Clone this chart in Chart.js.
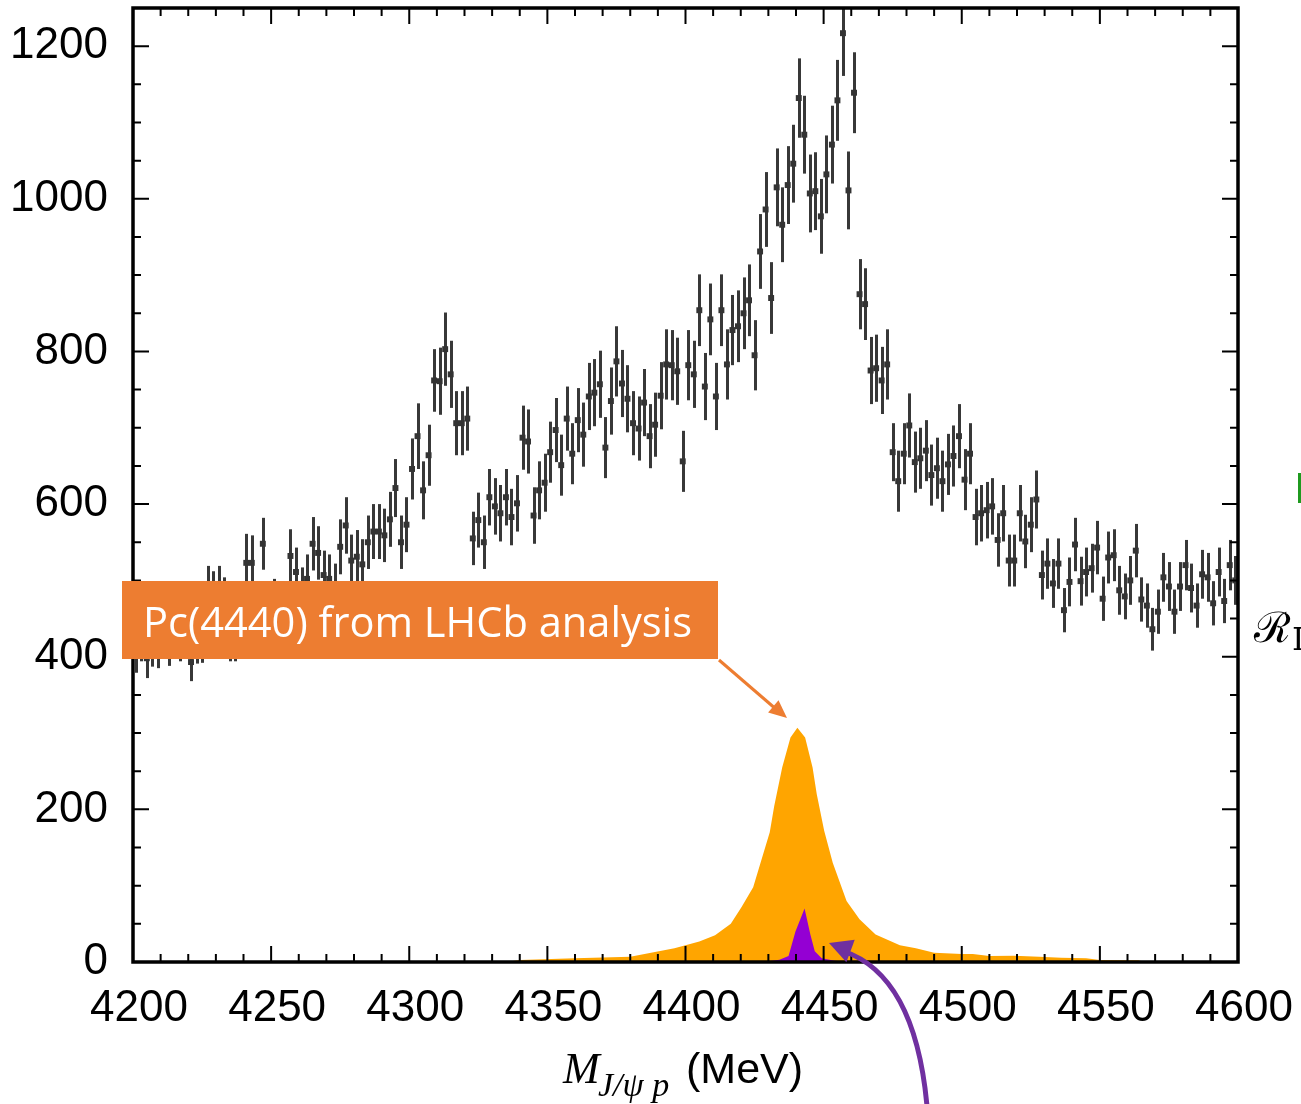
<!DOCTYPE html>
<html>
<head>
<meta charset="utf-8">
<script src="https://cdn.jsdelivr.net/npm/chart.js@4.4.0/dist/chart.umd.min.js"></script>
<style>
html,body{margin:0;padding:0;background:#ffffff;}
#wrap{position:relative;width:1301px;height:1104px;overflow:hidden;}
canvas{display:block;}
</style>
</head>
<body>
<div id="wrap"><canvas id="c" width="1301" height="1104"></canvas></div>
<script>
// ---- data ----
const massLow = 4200;      // MeV, first bin edge
const binWidth = 2;        // MeV
const counts = [
 405,420,398,413,411,440,414,445,420,450,
 393,417,418,487,480,487,475,420,420,470,
 523,523,455,548,455,473,460,462,532,511,
 485,502,548,536,507,502,490,544,572,526,
 531,521,550,564,564,559,580,621,550,573,
 646,689,618,664,762,761,803,770,706,706,
 712,555,579,550,609,597,588,609,583,601,
 687,682,585,618,628,668,697,651,712,666,
 710,691,741,746,757,674,735,787,758,738,
 706,699,733,689,704,742,783,782,774,656,
 782,770,854,754,842,741,854,783,828,833,
 850,867,795,931,986,870,1015,966,1018,1046,
 1132,1084,1007,1010,977,1032,1071,1129,1217,1011,
 1139,875,862,775,778,762,783,668,630,666,
 703,655,660,670,638,647,630,652,663,689,
 632,666,583,588,592,597,553,588,526,526,
 588,551,573,606,507,522,496,522,461,498,
 547,499,511,516,543,476,530,533,487,479,
 500,539,475,467,436,459,504,492,459,492,
 520,490,467,508,504,470,511,473,520,500
];
const countErrors = [
 26,26,26,26,26,29,26,29,26,29,
 25,26,26,32,32,32,29,26,26,29,
 38,36,29,34,29,29,29,29,35,32,
 32,32,35,35,32,32,32,36,37,34,
 35,33,35,36,36,35,36,38,35,36,
 40,43,38,40,41,44,48,44,42,42,
 42,35,36,35,37,37,37,37,37,37,
 42,42,37,38,38,40,42,40,42,40,
 42,42,44,44,44,40,44,46,44,44,
 42,42,44,42,42,44,46,46,44,40,
 46,44,47,44,47,44,47,46,46,47,
 47,47,46,49,49,47,51,49,51,51,
 52,51,51,51,49,51,51,53,56,51,
 53,46,47,44,44,44,46,38,40,40,
 42,40,40,40,40,40,40,40,40,42,
 40,40,37,37,37,37,35,37,34,34,
 37,35,36,38,32,33,32,33,29,32,
 35,32,32,32,35,29,34,34,32,30,
 32,35,29,29,28,29,32,32,29,32,
 33,32,29,32,32,29,32,29,33,32
];
// Pc(4440) line shape from the LHCb analysis (orange)
const pcMass = [4335,4340,4360,4380,4396,4405,4410.7,4416.4,4420.3,4424.5,4430.5,4432.1,4435,4438,4440.5,4443.3,4446,4447.5,4450.2,4453.3,4458.3,4463,4468.8,4477.6,4483.4,4490,4500,4504,4510,4519,4528,4536,4545,4550,4564,4566];
const pcYield = [0,2.6,4.8,7,18,27,35,50,72,98,170,204,255,294,307,294,255,220,172,130,80,56,36,22,18,12,10.5,10.5,8,8.3,7,5.7,4.8,2.6,2.2,0];
// narrow component (purple)
const narrowMass = [4425,4430,4434,4437.3,4439.8,4443.1,4445.2,4446.8,4449.3,4454,4460];
const narrowYield = [0,1,3,8,40,70,36,14,5,1.5,0];
// axis ticks
const xTickLabels = [4200,4250,4300,4350,4400,4450,4500,4550,4600];
const yTickLabels = [0,200,400,600,800,1000,1200];
const xMinorStep = 10, yMinorStep = 50;

// ---- build datasets ----
const dataPoints = counts.map((v,i)=>({x: massLow + binWidth*(i+0.5), y: v}));
const pcPoints = pcMass.map((m,i)=>({x:m, y:pcYield[i]}));
const narrowPoints = narrowMass.map((m,i)=>({x:m, y:narrowYield[i]}));

const errorBarPlugin = {
  id:'errorBars',
  beforeDatasetsDraw(chart){
    const {ctx, chartArea:a, scales:{x,y}} = chart;
    ctx.save();
    ctx.beginPath(); ctx.rect(a.left, a.top, a.right-a.left, a.bottom-a.top); ctx.clip();
    ctx.strokeStyle = '#383838'; ctx.lineWidth = 3; ctx.lineCap='butt';
    dataPoints.forEach((p,i)=>{
      const px = Math.round(x.getPixelForValue(p.x))+0.5;
      ctx.beginPath();
      ctx.moveTo(px, y.getPixelForValue(p.y - countErrors[i]));
      ctx.lineTo(px, y.getPixelForValue(p.y + countErrors[i]));
      ctx.stroke();
    });
    ctx.restore();
  }
};

const framePlugin = {
  id:'frame',
  afterDatasetsDraw(chart){
    const {ctx, chartArea:a, scales:{x,y}} = chart;
    ctx.save();
    ctx.strokeStyle = '#000'; ctx.lineWidth = 2;
    for (let v = x.min; v <= x.max + 1e-6; v += xMinorStep) {
      const px = x.getPixelForValue(v);
      const len = (v % 50 === 0) ? 16 : 8;
      ctx.beginPath();
      ctx.moveTo(px, a.bottom); ctx.lineTo(px, a.bottom - len);
      ctx.moveTo(px, a.top); ctx.lineTo(px, a.top + len);
      ctx.stroke();
    }
    for (let v = y.min; v <= y.max + 1e-6; v += yMinorStep) {
      const py = y.getPixelForValue(v);
      const len = (v % 200 === 0) ? 16 : 8;
      ctx.beginPath();
      ctx.moveTo(a.left, py); ctx.lineTo(a.left + len, py);
      ctx.moveTo(a.right, py); ctx.lineTo(a.right - len, py);
      ctx.stroke();
    }
    ctx.lineWidth = 3.5;
    ctx.strokeRect(a.left, a.top, a.right - a.left, a.bottom - a.top);
    ctx.restore();
  }
};

function arrowHead(ctx, tipX, tipY, fromX, fromY, len, half, color){
  const ang = Math.atan2(tipY-fromY, tipX-fromX);
  ctx.save();
  ctx.fillStyle = color;
  ctx.beginPath();
  ctx.moveTo(tipX, tipY);
  ctx.lineTo(tipX - len*Math.cos(ang) + half*Math.sin(ang), tipY - len*Math.sin(ang) - half*Math.cos(ang));
  ctx.lineTo(tipX - len*Math.cos(ang) - half*Math.sin(ang), tipY - len*Math.sin(ang) + half*Math.cos(ang));
  ctx.closePath(); ctx.fill();
  ctx.restore();
}

const annotationPlugin = {
  id:'annot',
  afterDraw(chart){
    const ctx = chart.ctx;
    ctx.save();
    // orange label box
    ctx.fillStyle = '#ED7D31';
    ctx.fillRect(122, 581, 596, 78);
    const label = 'Pc(4440) from LHCb analysis';
    ctx.font = '38px "Open Sans"';
    const w = ctx.measureText(label).width;
    const fs = 38 * 549 / w;
    ctx.font = fs.toFixed(2) + 'px "Open Sans"';
    ctx.fillStyle = '#ffffff';
    ctx.textBaseline = 'alphabetic'; ctx.textAlign = 'left';
    ctx.fillText(label, 143, 637);
    // orange arrow
    ctx.strokeStyle = '#ED7D31'; ctx.lineWidth = 3;
    ctx.beginPath(); ctx.moveTo(719, 660); ctx.lineTo(777, 710); ctx.stroke();
    arrowHead(ctx, 787, 718, 719, 660, 18, 8, '#ED7D31');
    // purple curved arrow
    ctx.strokeStyle = '#7030A0'; ctx.lineWidth = 5;
    ctx.beginPath(); ctx.moveTo(927, 1106); ctx.quadraticCurveTo(915, 975, 843, 951); ctx.stroke();
    arrowHead(ctx, 829, 943, 915, 975, 23, 12, '#7030A0');
    // x axis title
    ctx.fillStyle = '#000';
    ctx.font = 'italic 44px "Liberation Serif"';
    ctx.fillText('M', 563, 1083);
    ctx.font = 'italic 34px "Liberation Serif"';
    ctx.fillText('J/\u03C8 p', 598, 1096);
    ctx.font = '43px "Liberation Sans"';
    ctx.fillText('(MeV)', 686, 1083);
    // cropped neighbour-panel elements at the right edge
    ctx.fillStyle = '#1f9a1f';
    ctx.fillRect(1298, 473, 3, 30);
    ctx.fillStyle = '#000';
    ctx.font = '42px "DejaVu Serif"';
    ctx.fillText('\u211B', 1254, 642);
    ctx.font = '32px "DejaVu Serif"';
    ctx.fillText('I', 1292, 650);
    ctx.restore();
  }
};

new Chart(document.getElementById('c'), {
  type: 'scatter',
  data: {
    datasets: [
      { label:'data', data: dataPoints, order: 0, pointStyle:'rect', pointRadius: 4.2,
        backgroundColor:'#333333', borderColor:'#333333', borderWidth:0, showLine:false },
      { label:'narrow', type:'line', data: narrowPoints, order: 1, fill:'origin',
        backgroundColor:'#9400D3', borderColor:'#9400D3', borderWidth:0, pointRadius:0, tension:0 },
      { label:'Pc(4440)', type:'line', data: pcPoints, order: 2, fill:'origin',
        backgroundColor:'#FFA500', borderColor:'#FFA500', borderWidth:0, pointRadius:0, tension:0 }
    ]
  },
  options: {
    responsive:false, animation:false, devicePixelRatio:1,
    layout:{ autoPadding:false, padding:{ left:0, top:8, right:63, bottom:0 } },
    plugins:{ legend:{display:false}, tooltip:{enabled:false} },
    scales:{
      x:{ type:'linear', min:4200, max:4600,
          afterBuildTicks(s){ s.ticks = xTickLabels.map(v=>({value:v})); },
          afterFit(s){ s.height = 142; s.paddingLeft = 0; s.paddingRight = 0; s.paddingTop = 0; s.paddingBottom = 0; },
          grid:{display:false, drawTicks:false}, border:{display:false},
          ticks:{ callback:v=>String(v), font:{family:'Liberation Sans', size:44}, color:'#000',
                  padding:20, labelOffset:6, maxRotation:0, autoSkip:false } },
      y:{ type:'linear', min:0, max:1250,
          afterBuildTicks(s){ s.ticks = yTickLabels.map(v=>({value:v})); },
          afterFit(s){ s.width = 133; s.paddingLeft = 0; s.paddingRight = 0; s.paddingTop = 0; s.paddingBottom = 0; },
          grid:{display:false, drawTicks:false}, border:{display:false},
          ticks:{ callback:v=>String(v), font:{family:'Liberation Sans', size:44}, color:'#000',
                  padding:25, autoSkip:false } }
    }
  },
  plugins:[errorBarPlugin, framePlugin, annotationPlugin]
});
</script>
</body>
</html>
